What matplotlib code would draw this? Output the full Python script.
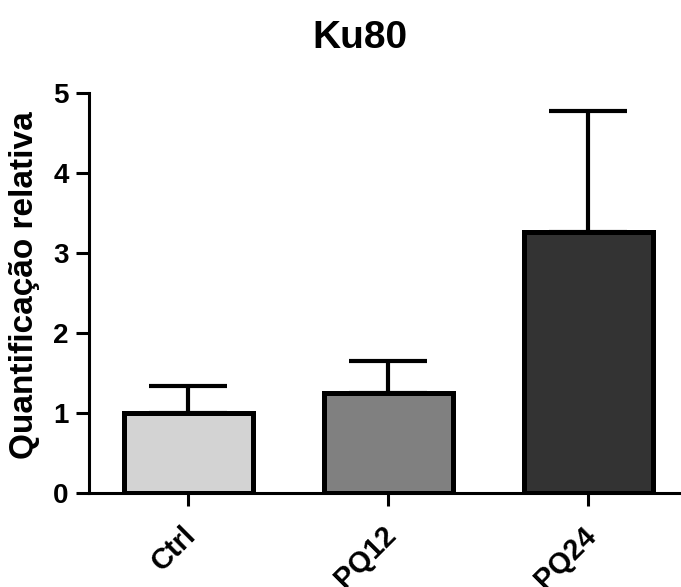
import matplotlib
matplotlib.use("Agg")
import matplotlib.pyplot as plt
from matplotlib.transforms import ScaledTranslation

plt.rcParams['font.family'] = ['Liberation Sans', 'DejaVu Sans']
plt.rcParams['font.weight'] = 'bold'

# Data
groups = ["Ctrl", "PQ12", "PQ24"]
means = [1.00, 1.25, 3.26]
sem_up = [0.34, 0.40, 1.51]
bar_colors = ["#d3d3d3", "#808080", "#333333"]

fig = plt.figure(figsize=(6.81, 5.87), dpi=100)
ax = fig.add_axes([0.1307, 0.1601, 0.8693, 0.6814])

x = list(range(len(groups)))
ax.bar(x, means, width=0.645, color=bar_colors, edgecolor="black",
       linewidth=3.6, zorder=2)
ax.errorbar(x, means, yerr=[[0] * len(means), sem_up], fmt="none",
            ecolor="black", elinewidth=3.0, capsize=28, capthick=3.0,
            zorder=3)

ax.set_xlim(-0.495, 2.465)
ax.set_ylim(0, 5)
ax.set_yticks([0, 1, 2, 3, 4, 5])
ax.set_xticks(x)
ax.set_xticklabels(groups, rotation=45, ha="right", rotation_mode="anchor",
                   fontsize=21, fontweight="bold")
ax.tick_params(axis="y", labelsize=20, width=2.2, length=9.5, pad=5)
ax.tick_params(axis="x", width=2.2, length=9.5, pad=10)
for lab in ax.get_yticklabels():
    lab.set_fontweight("bold")
# nudge rotated category labels a little to the left
shift = ScaledTranslation(-0.06, -0.01, fig.dpi_scale_trans)
for lab in ax.get_xticklabels():
    lab.set_transform(lab.get_transform() + shift)

for side in ("top", "right"):
    ax.spines[side].set_visible(False)
for side in ("left", "bottom"):
    ax.spines[side].set_linewidth(2.2)

ax.set_ylabel("Quantificação relativa", fontsize=24, fontweight="bold")
ax.yaxis.set_label_coords(-0.083, 0.52)
fig.text(0.529, 0.935, "Ku80", ha="center", va="center", fontsize=28,
         fontweight="bold")

fig.savefig("out.png", dpi=100)
